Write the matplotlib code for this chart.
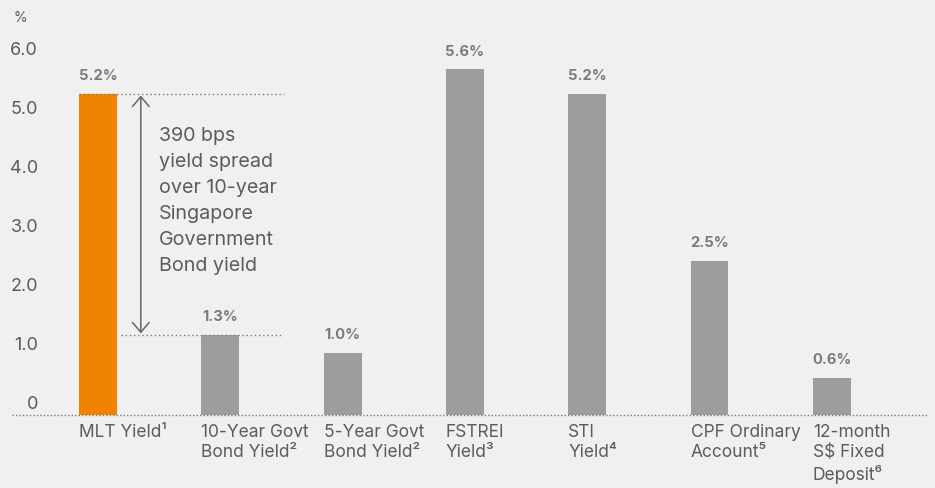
import matplotlib
matplotlib.use("Agg")
import matplotlib.pyplot as plt
import numpy as np

# datos del grafico
categorias = ["MLT Yield¹", "10-Year Govt\nBond Yield²", "5-Year Govt\nBond Yield²",
              "FSTREI\nYield³", "STI\nYield⁴", "CPF Ordinary\nAccount⁵",
              "12-month\nS$ Fixed\nDeposit⁶"]
valores = [5.2, 1.3, 1.0, 5.6, 5.2, 2.5, 0.6]
etiquetas_valor = ["5.2%", "1.3%", "1.0%", "5.6%", "5.2%", "2.5%", "0.6%"]
ticks_y = ["0", "1.0", "2.0", "3.0", "4.0", "5.0", "6.0"]
texto_spread = "390 bps\nyield spread\nover 10-year\nSingapore\nGovernment\nBond yield"

fondo = "#f0f0f0"
gris_barra = "#9d9d9b"
naranja = "#f08400"
gris_texto = "#5c5c5c"

plt.rcParams['font.family'] = ['Inter', 'DejaVu Sans']

fig = plt.figure(figsize=(9.35, 4.88), dpi=100, facecolor=fondo)
ax = fig.add_axes([50/935, 0, 885/935, 1])
ax.set_facecolor(fondo)

x = np.arange(len(valores))
ancho = 0.31
colores = [naranja] + [gris_barra]*(len(valores)-1)
ax.bar(x, valores, width=ancho, color=colores, zorder=2)

ax.set_xlim(-0.3925, 6.844)
ax.set_ylim(-1.183, 6.726)

# etiquetas de valor
for i in range(len(valores)):
    ax.annotate(etiquetas_valor[i], (x[i], valores[i]), xytext=(0, 10),
                textcoords="offset points", ha="center", va="baseline",
                fontsize=10.6, fontweight="bold", color="#7b7b7b")

# nombres de categorias
for i in range(len(categorias)):
    ax.text(x[i]-ancho/2, -0.138, categorias[i], ha="left", va="top",
            fontsize=12.5, color=gris_texto, linespacing=1.28)

# eje y
pos_ticks = np.arange(len(ticks_y))*0.957 + 0.2
ax.set_yticks(pos_ticks)
ax.set_yticklabels(ticks_y, fontsize=13, color=gris_texto)
ax.tick_params(axis="y", length=0, pad=8.6)
ax.set_xticks([])
for s in ax.spines.values():
    s.set_visible(False)

ax.text(-0.695, 6.43, "%", ha="left", va="center", fontsize=10, color=gris_texto)

# linea base punteada
ax.plot([-0.70, 6.79], [0, 0], color="#7a7a7a", lw=1, ls=(0, (1, 1.5)),
        clip_on=False, zorder=3)

# lineas de referencia y flecha del spread
ax.plot([-ancho/2, 1.52], [valores[0], valores[0]], color="#7a7a7a", lw=1,
        ls=(0, (1, 2)), zorder=3)
ax.plot([0.188, 1.50], [valores[1], valores[1]], color="#7a7a7a", lw=1,
        ls=(0, (1, 2)), zorder=3)
ax.annotate("", xy=(0.35, valores[0]), xytext=(0.35, valores[1]),
            arrowprops=dict(arrowstyle="<->,head_length=0.7,head_width=0.6",
                            color="#666666", lw=1.1, shrinkA=1, shrinkB=1))
ax.text(0.50, 4.66, texto_spread, ha="left", va="top", fontsize=14.2,
        color=gris_texto, linespacing=1.56)

plt.savefig("out.png", dpi=100, facecolor=fondo)
